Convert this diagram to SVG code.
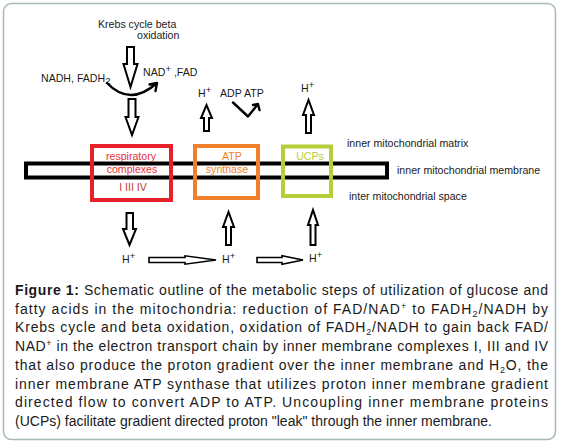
<svg xmlns="http://www.w3.org/2000/svg" width="563" height="445" viewBox="0 0 563 445">
<style>
  text { font-family: "Liberation Sans", Arial, sans-serif; }
  .lbl { font-size: 10.6px; fill: #1a1a1a; }
  .cap { font-size: 14px; fill: #1a1a1a; }
  .hollow { fill: #fff; stroke: #000; stroke-width: 2; stroke-linejoin: miter; }
  .hz { fill: #fff; stroke: #000; stroke-width: 1.6; }
  .curve { fill: none; stroke: #000; stroke-width: 2.4; stroke-linecap: round; stroke-linejoin: round; }
</style>
<rect x="3.5" y="3.5" width="552" height="436" rx="8" fill="#fff" stroke="#a9b9bb" stroke-width="1.5"/>

<g id="membrane">
  <rect x="26" y="163.5" width="361" height="14" fill="#fff" stroke="#000" stroke-width="4"/>
</g>

<g id="respiratory-complexes">
  <rect x="92" y="146" width="79" height="54" fill="none" stroke="#e8202a" stroke-width="4"/>
  <text x="131" y="160" text-anchor="middle" class="lbl" style="fill:#e8303a">respiratory</text>
  <text x="132" y="173" text-anchor="middle" class="lbl" style="fill:#e8303a">complexes</text>
  <text x="133" y="191" text-anchor="middle" class="lbl" style="fill:#c0402a">I III IV</text>
</g>

<g id="atp-synthase">
  <rect x="195" y="146" width="63" height="52" fill="none" stroke="#f07f2a" stroke-width="4"/>
  <text x="232" y="160" text-anchor="middle" class="lbl" style="fill:#f07f2a">ATP</text>
  <text x="227" y="173" text-anchor="middle" class="lbl" style="fill:#f07f2a">synthase</text>
</g>

<g id="ucps">
  <rect x="283" y="146.5" width="48" height="49.5" fill="none" stroke="#b5cf3a" stroke-width="4"/>
  <text x="310" y="160" text-anchor="middle" class="lbl" style="fill:#b5cf3a">UCPs</text>
</g>

<g id="labels">
  <text x="98" y="28" class="lbl">Krebs cycle beta</text>
  <text x="137" y="39" class="lbl">oxidation</text>
  <text x="41" y="82" class="lbl">NADH, FADH<tspan dy="2" font-size="9.5">2</tspan></text>
  <text x="143" y="76" class="lbl">NAD<tspan dy="-4" font-size="9.5">+</tspan><tspan dy="4"> ,FAD</tspan></text>
  <text x="198" y="97" class="lbl">H<tspan dy="-4" font-size="9.5">+</tspan></text>
  <text x="220" y="97" class="lbl">ADP ATP</text>
  <text x="301" y="92" class="lbl">H<tspan dy="-4" font-size="9.5">+</tspan></text>
  <text x="347" y="147" class="lbl">inner mitochondrial matrix</text>
  <text x="397" y="174" class="lbl">inner mitochondrial membrane</text>
  <text x="349" y="200" class="lbl">inter mitochondrial space</text>
  <text x="122" y="263" class="lbl">H<tspan dy="-4" font-size="9.5">+</tspan></text>
  <text x="222" y="263" class="lbl">H<tspan dy="-4" font-size="9.5">+</tspan></text>
  <text x="309" y="262" class="lbl">H<tspan dy="-4" font-size="9.5">+</tspan></text>
</g>

<g id="connectors">
  <polygon class="hollow" points="127,47 134,47 134,64 137.5,64 130.5,87 123.5,64 127,64"/>
  <path class="curve" d="M107,83 Q130,107 157,83 M149.5,84.5 L157,83 L155.5,91"/>
  <polygon class="hollow" points="128.5,99 135.5,99 135.5,117 138.5,117 132,135 125.5,117 128.5,117"/>
  <polygon class="hollow" points="204,131 209,131 209,118 212,118 206.5,105 201,118 204,118"/>
  <path class="curve" d="M233,102.5 L248,116.5 L258,104 M253,105 L258,104 L259.5,110"/>
  <polygon class="hollow" points="306,133 311,133 311,115 314,115 308.5,100 303,115 306,115"/>
  <polygon class="hollow" points="126.5,213 133,213 133,229 136,229 129.5,245 123,229 126.5,229"/>
  <polygon class="hollow" points="226,245 231,245 231,227 234,227 228.5,212 223,227 226,227"/>
  <polygon class="hollow" points="310.5,245 315.5,245 315.5,225 318,225 313,210 308,225 310.5,225"/>
  <polygon class="hz" points="149,257.5 185,257.5 185,255.8 216,260 185,264.2 185,262.5 149,262.5"/>
  <polygon class="hz" points="257,257.5 282,257.5 282,255.8 303,260 282,264.2 282,262.5 257,262.5"/>
</g>

<g id="caption">
  <text x="15" y="295" class="cap" textLength="533" lengthAdjust="spacing"><tspan font-weight="bold">Figure 1:</tspan> Schematic outline of the metabolic steps of utilization of glucose and</text>
  <text x="15" y="313.7" class="cap" textLength="533" lengthAdjust="spacing">fatty acids in the mitochondria: reduction of FAD/NAD<tspan dy="-5" font-size="9">+</tspan><tspan dy="5"> to FADH</tspan><tspan dy="3" font-size="9">2</tspan><tspan dy="-3">/NADH by</tspan></text>
  <text x="15" y="332.4" class="cap" textLength="533" lengthAdjust="spacing">Krebs cycle and beta oxidation, oxidation of FADH<tspan dy="3" font-size="9">2</tspan><tspan dy="-3">/NADH to gain back FAD/</tspan></text>
  <text x="15" y="351.1" class="cap" textLength="533" lengthAdjust="spacing">NAD<tspan dy="-5" font-size="9">+</tspan><tspan dy="5"> in the electron transport chain by inner membrane complexes I, III and IV</tspan></text>
  <text x="15" y="369.8" class="cap" textLength="533" lengthAdjust="spacing">that also produce the proton gradient over the inner membrane and H<tspan dy="3" font-size="9">2</tspan><tspan dy="-3">O, the</tspan></text>
  <text x="15" y="388.5" class="cap" textLength="533" lengthAdjust="spacing">inner membrane ATP synthase that utilizes proton inner membrane gradient</text>
  <text x="15" y="407.2" class="cap" textLength="533" lengthAdjust="spacing">directed flow to convert ADP to ATP. Uncoupling inner membrane proteins</text>
  <text x="15" y="425.9" class="cap">(UCPs) facilitate gradient directed proton "leak" through the inner membrane.</text>
</g>
</svg>
